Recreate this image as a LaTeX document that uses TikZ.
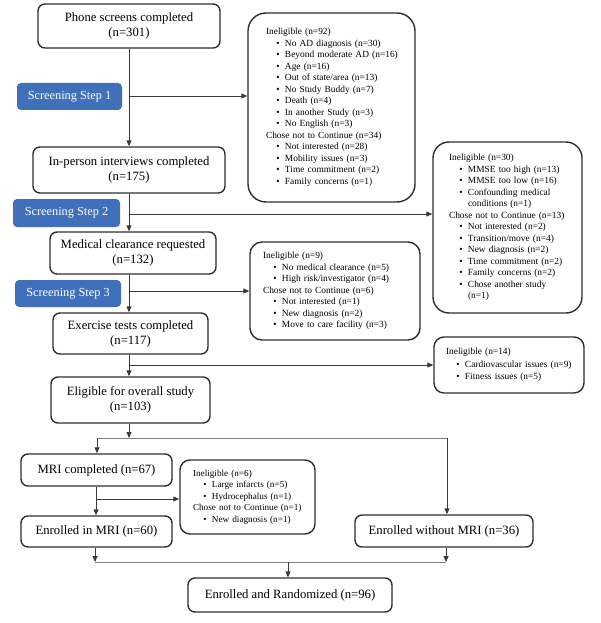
\documentclass[tikz,border=0pt]{standalone}
\usepackage{fontspec}
\setmainfont{Liberation Serif}
\usetikzlibrary{arrows.meta}
\definecolor{stepblue}{HTML}{4170BA}
\definecolor{edgegray}{HTML}{2E2E2E}
\definecolor{linegray}{HTML}{3A3A3A}
\definecolor{splitgray}{HTML}{808080}
\newcommand\bitem[1]{\mbox{\hspace*{10.3pt}\textbullet\hspace{5.4pt}#1}}
\newcommand\bcont[1]{\mbox{\hspace*{19pt}#1}}
\tikzset{
  mainbox/.style={draw=edgegray, line width=1.4pt, rounded corners=7pt, align=center,
    font=\fontsize{12.7}{15}\selectfont, inner sep=0pt},
  stepbox/.style={fill=stepblue, rounded corners=4pt, text=white, align=center,
    font=\fontsize{12.3}{14}\selectfont, inner sep=0pt},
  sidebox/.style={draw=edgegray, line width=1.4pt, align=left,
    font=\fontsize{9.4}{11.5}\selectfont, inner ysep=0pt},
  conn/.style={draw=linegray, line width=0.9pt, -{Triangle[length=6pt,width=5pt]}},
  plain/.style={draw=linegray, line width=0.9pt},
  split/.style={draw=splitgray, line width=0.9pt},
}
\begin{document}
\begin{tikzpicture}[x=1pt,y=-1pt]
\useasboundingbox (0,0) rectangle (600,623);

% main boxes
\node[mainbox, minimum width=182pt, minimum height=44pt] (phone) at (129,26) {Phone screens completed\\(n=301)};
\node[mainbox, minimum width=192pt, minimum height=46pt] (inperson) at (129,170) {In-person interviews completed\\(n=175)};
\node[mainbox, minimum width=166pt, minimum height=42pt] (medical) at (133,253) {Medical clearance requested\\(n=132)};
\node[mainbox, minimum width=155pt, minimum height=41pt] (exercise) at (130.5,333.5) {Exercise tests completed\\(n=117)};
\node[mainbox, minimum width=159pt, minimum height=46pt] (eligible) at (130.5,400) {Eligible for overall study\\(n=103)};
\node[mainbox, minimum width=151pt, minimum height=32pt] (mri) at (96.5,470) {MRI completed (n=67)};
\node[mainbox, minimum width=151pt, minimum height=31pt] (enrmri) at (96.5,531.5) {Enrolled in MRI (n=60)};
\node[mainbox, minimum width=178pt, minimum height=32pt] (enrno) at (444,531) {Enrolled without MRI (n=36)};
\node[mainbox, minimum width=204pt, minimum height=34pt] (rand) at (290,595) {Enrolled and Randomized (n=96)};

% screening steps
\node[stepbox, minimum width=105pt, minimum height=27pt] (ss1) at (69.5,96.5) {Screening Step 1};
\node[stepbox, minimum width=107pt, minimum height=28pt] (ss2) at (66.5,213) {Screening Step 2};
\node[stepbox, minimum width=106pt, minimum height=27pt] (ss3) at (68,293.5) {Screening Step 3};

% side boxes
\node[sidebox, rounded corners=18pt, text width=131pt, inner xsep=18pt, minimum height=189pt] (ex1) at (331.5,107.5) {%
Ineligible (n=92)\\
\bitem{No AD diagnosis (n=30)}\\
\bitem{Beyond moderate AD (n=16)}\\
\bitem{Age (n=16)}\\
\bitem{Out of state/area (n=13)}\\
\bitem{No Study Buddy (n=7)}\\
\bitem{Death (n=4)}\\
\bitem{In another Study (n=3)}\\
\bitem{No English (n=3)}\\
Chose not to Continue (n=34)\\
\bitem{Not interested (n=28)}\\
\bitem{Mobility issues (n=3)}\\
\bitem{Time commitment (n=2)}\\
\bitem{Family concerns (n=1)}};

\node[sidebox, rounded corners=16pt, text width=117pt, inner xsep=16pt, minimum height=171pt] (ex2) at (507.5,227.5) {%
Ineligible (n=30)\\
\bitem{MMSE too high (n=13)}\\
\bitem{MMSE too low (n=16)}\\
\bitem{Confounding medical}\\
\bcont{conditions (n=1)}\\
Chose not to Continue (n=13)\\
\bitem{Not interested (n=2)}\\
\bitem{Transition/move (n=4)}\\
\bitem{New diagnosis (n=2)}\\
\bitem{Time commitment (n=2)}\\
\bitem{Family concerns (n=2)}\\
\bitem{Chose another study}\\
\bcont{(n=1)}};

\node[sidebox, rounded corners=12pt, text width=144pt, inner xsep=13pt, minimum height=98pt] (ex3) at (335,291) {%
Ineligible (n=9)\\
\bitem{No medical clearance (n=5)}\\
\bitem{High risk/investigator (n=4)}\\
Chose not to Continue (n=6)\\
\bitem{Not interested (n=1)}\\
\bitem{New diagnosis (n=2)}\\
\bitem{Move to care facility (n=3)}};

\node[sidebox, rounded corners=10pt, text width=126pt, inner xsep=12pt, minimum height=56pt, font=\fontsize{9.4}{12.5}\selectfont] (ex4) at (509,365) {%
Ineligible (n=14)\\
\bitem{Cardiovascular issues (n=9)}\\
\bitem{Fitness issues (n=5)}};

\node[sidebox, rounded corners=10pt, text width=109pt, inner xsep=13pt, minimum height=74pt, font=\fontsize{9.2}{11.4}\selectfont] (ex5) at (247.5,497) {%
Ineligible (n=6)\\
\bitem{Large infarcts (n=5)}\\
\bitem{Hydrocephalus (n=1)}\\
Chose not to Continue (n=1)\\
\bitem{New diagnosis (n=1)}};

% spine
\draw[conn] (phone.south) -- (inperson.north);
\draw[conn] (inperson.south) -- (inperson.south |- medical.north);
\draw[conn] (medical.south -| inperson.south) -- (inperson.south |- exercise.north);
\draw[conn] (exercise.south -| inperson.south) -- (inperson.south |- eligible.north);

% branch points
\coordinate (b1) at (129,96);
\coordinate (b2) at (129,214);
\coordinate (b3) at (129,291);
\coordinate (b4) at (129,365);
\draw[conn] (b1) -- (b1 -| ex1.west);
\draw[conn] (b2) -- (b2 -| ex2.west);
\draw[conn] (b3) -- (b3 -| ex3.west);
\draw[conn] (b4) -- (b4 -| ex4.west);

% split after eligible
\coordinate (s1) at (129,438);
\coordinate (sl) at (97,438);
\coordinate (sr) at (447,438);
\draw[conn] (eligible.south -| s1) -- (s1);
\draw[split] (sl) -- (sr);
\draw[conn] (sl) -- (sl |- mri.north);
\draw[conn] (sr) -- (sr |- enrno.north);

% MRI branch
\coordinate (b5) at (96,499);
\draw[conn] (mri.south -| b5) -- (b5 |- enrmri.north);
\draw[conn] (b5) -- (b5 -| ex5.west);

% merge
\coordinate (ml) at (95,562);
\coordinate (mr) at (446,562);
\coordinate (mm) at (288,562);
\draw[conn] (enrmri.south -| ml) -- (ml);
\draw[conn] (enrno.south -| mr) -- (mr);
\draw[split] (ml) -- (mr);
\draw[conn] (mm) -- (mm |- rand.north);
\end{tikzpicture}
\end{document}
